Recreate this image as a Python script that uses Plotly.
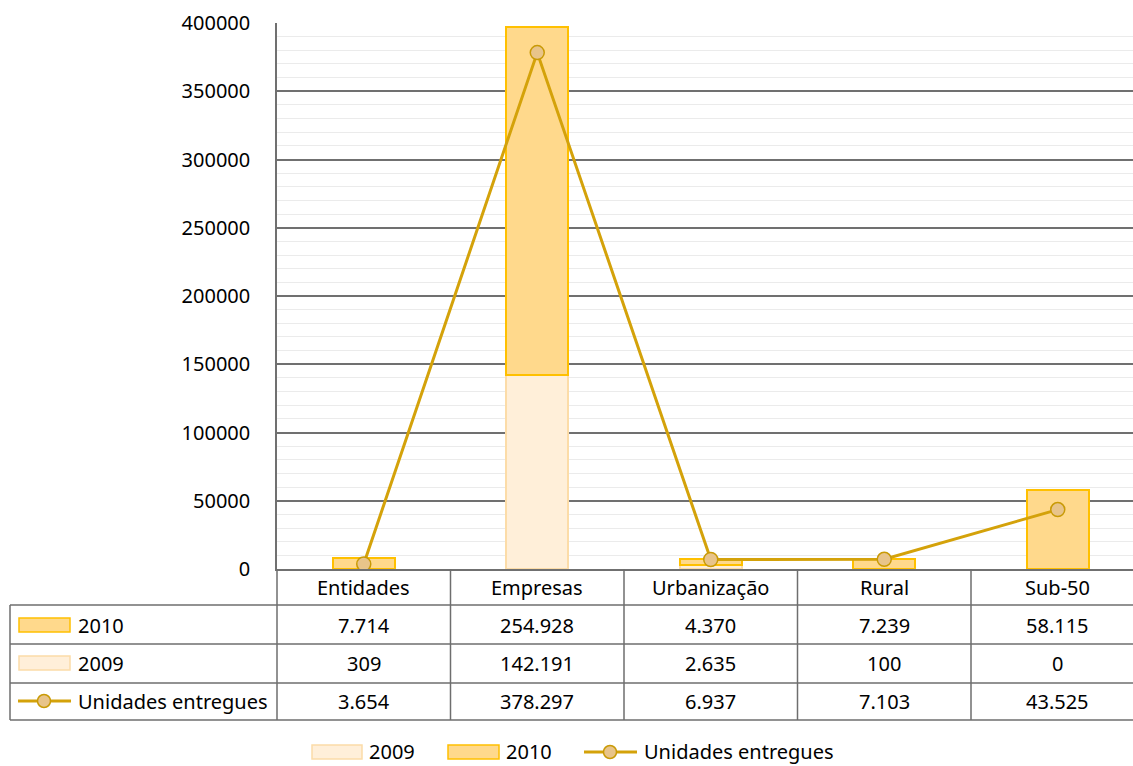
import plotly.graph_objects as go

categories = ["Entidades", "Empresas", "Urbanização", "Rural", "Sub-50"]
values_2009 = [309, 142191, 2635, 100, 0]
values_2010 = [7714, 254928, 4370, 7239, 58115]
unidades = [3654, 378297, 6937, 7103, 43525]
y_ticks = [0, 50000, 100000, 150000, 200000, 250000, 300000, 350000, 400000]

W, H = 1133, 766
L, R, T, B = 277, 0, 23, 197
PW = W - L - R
PH = H - T - B
CAT_W = 173.5  # pixel width of one category slot

FONT = "Noto Sans"
FS = 20
C10_FILL = "#FFD98C"
C10_LINE = "#FFC000"
C09_FILL = "#FFEFD9"
C09_LINE = "#FCDCA8"
LINE_C = "#D4A20A"
MK_FILL = "#E8C48A"
MK_LINE = "#C99A06"
GRID = "#707070"


def px(x):
    return (x - L) / PW


def py(y):
    return (H - B - y) / PH


def fmt(v):
    return f"{v:,}".replace(",", ".")


fig = go.Figure()
fig.add_trace(go.Bar(x=categories, y=values_2009, name="2009",
                     marker=dict(color=C09_FILL, line=dict(color=C09_LINE, width=2))))
fig.add_trace(go.Bar(x=categories, y=values_2010, name="2010",
                     marker=dict(color=C10_FILL, line=dict(color=C10_LINE, width=2))))
fig.add_trace(go.Scatter(x=categories, y=unidades, name="Unidades entregues",
                         mode="lines+markers",
                         line=dict(color=LINE_C, width=3),
                         marker=dict(size=14, color=MK_FILL, line=dict(color=MK_LINE, width=1.5))))

shapes = []
ann = []
tline = dict(color="#6E6E6E", width=1.5)

col_edges = [L + i * CAT_W for i in range(5)]
col_centers = [L + (i + 0.5) * CAT_W for i in range(5)]
for xe in col_edges:
    shapes.append(dict(type="line", xref="paper", yref="paper",
                       x0=px(xe), x1=px(xe), y0=py(569), y1=py(720), line=tline))
shapes.append(dict(type="line", xref="paper", yref="paper",
                   x0=px(10), x1=px(10), y0=py(605), y1=py(720), line=tline))
for yr in [605, 644, 683, 720]:
    shapes.append(dict(type="line", xref="paper", yref="paper",
                       x0=px(10), x1=px(1133), y0=py(yr), y1=py(yr), line=tline))

for cx, cat in zip(col_centers, categories):
    ann.append(dict(text=cat, x=px(cx), y=py(587), xref="paper", yref="paper",
                    showarrow=False, xanchor="center", yanchor="middle",
                    font=dict(family=FONT, size=FS, color="#000")))
rows = [(625, values_2010), (663, values_2009), (701, unidades)]
for ry, vals in rows:
    for cx, v in zip(col_centers, vals):
        ann.append(dict(text=fmt(v), x=px(cx), y=py(ry), xref="paper", yref="paper",
                        showarrow=False, xanchor="center", yanchor="middle",
                        font=dict(family=FONT, size=FS, color="#000")))

# row keys in table
shapes.append(dict(type="rect", xref="paper", yref="paper", x0=px(19), x1=px(70),
                   y0=py(618), y1=py(632), fillcolor=C10_FILL, line=dict(color=C10_LINE, width=1.5)))
shapes.append(dict(type="rect", xref="paper", yref="paper", x0=px(19), x1=px(70),
                   y0=py(656), y1=py(670), fillcolor=C09_FILL, line=dict(color=C09_LINE, width=1.5)))
shapes.append(dict(type="line", xref="paper", yref="paper", x0=px(18), x1=px(71),
                   y0=py(701), y1=py(701), line=dict(color=LINE_C, width=3)))
shapes.append(dict(type="circle", xref="paper", yref="paper", x0=px(37.5), x1=px(50.5),
                   y0=py(694.5), y1=py(707.5), fillcolor=MK_FILL, line=dict(color=MK_LINE, width=1.5)))
for ry, lab in [(625, "2010"), (663, "2009"), (701, "Unidades entregues")]:
    ann.append(dict(text=lab, x=px(76), y=py(ry), xref="paper", yref="paper",
                    showarrow=False, xanchor="left", yanchor="middle",
                    font=dict(family=FONT, size=FS, color="#000")))

# bottom legend
ly = 751
shapes.append(dict(type="rect", xref="paper", yref="paper", x0=px(312), x1=px(362),
                   y0=py(745), y1=py(759), fillcolor=C09_FILL, line=dict(color=C09_LINE, width=1.5)))
shapes.append(dict(type="rect", xref="paper", yref="paper", x0=px(448), x1=px(499),
                   y0=py(745), y1=py(759), fillcolor=C10_FILL, line=dict(color=C10_LINE, width=1.5)))
shapes.append(dict(type="line", xref="paper", yref="paper", x0=px(584), x1=px(637),
                   y0=py(ly + 1), y1=py(ly + 1), line=dict(color=LINE_C, width=3)))
shapes.append(dict(type="circle", xref="paper", yref="paper", x0=px(603.5), x1=px(616.5),
                   y0=py(ly + 1 - 6.5), y1=py(ly + 1 + 6.5), fillcolor=MK_FILL, line=dict(color=MK_LINE, width=1.5)))
for lx, lab in [(367, "2009"), (504, "2010"), (642, "Unidades entregues")]:
    ann.append(dict(text=lab, x=px(lx), y=py(ly), xref="paper", yref="paper",
                    showarrow=False, xanchor="left", yanchor="middle",
                    font=dict(family=FONT, size=FS, color="#000")))

x_max = -0.5 + PW / CAT_W

fig.update_layout(
    width=W, height=H,
    margin=dict(l=L, r=R, t=T, b=B, pad=0),
    barmode="stack", bargap=0.643,
    paper_bgcolor="white", plot_bgcolor="white",
    showlegend=False,
    font=dict(family=FONT, size=FS, color="#000"),
    shapes=shapes, annotations=ann,
    xaxis=dict(showticklabels=False, showgrid=False, zeroline=False,
               showline=True, linecolor=GRID, linewidth=1.5, range=[-0.5, x_max]),
    yaxis=dict(range=[0, 400000], tickvals=y_ticks, ticktext=[str(v) for v in y_ticks],
               showgrid=True, gridcolor=GRID, gridwidth=1.5,
               zeroline=False, showline=True, linecolor=GRID, linewidth=1.5,
               ticks="", ticklabelstandoff=21,
               minor=dict(dtick=10000, showgrid=True, gridcolor="#EBEBEB", gridwidth=1)),
)

fig.write_html("out.html")
